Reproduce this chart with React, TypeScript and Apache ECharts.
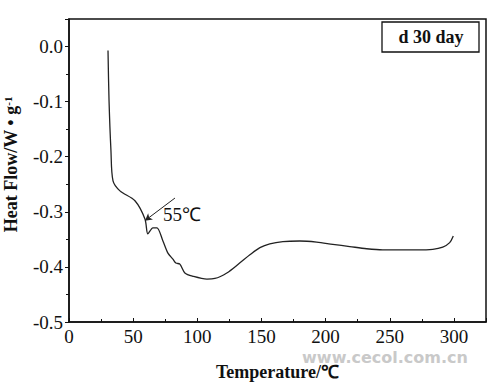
import React, { useEffect, useRef } from "react";
import * as echarts from "echarts";

const temperature = [30.4, 31.2, 32.7, 34.3, 39.7, 51.4, 59.2, 61.5, 65.4, 68.5, 73.2, 77.1, 81, 83.3, 86.4, 90.3, 96.6, 107.5, 113.7, 123, 133, 141, 148.8, 156.5, 166.7, 179.9, 193, 205.6, 218.8, 232, 244.5, 257.8, 270.8, 283.5, 291.3, 296.7, 299.5];
const heatFlow = [-0.007, -0.098, -0.189, -0.244, -0.262, -0.28, -0.313, -0.34, -0.329, -0.329, -0.353, -0.375, -0.386, -0.393, -0.395, -0.411, -0.417, -0.422, -0.421, -0.411, -0.393, -0.378, -0.365, -0.358, -0.354, -0.353, -0.355, -0.359, -0.363, -0.367, -0.369, -0.369, -0.369, -0.368, -0.364, -0.356, -0.344];
const xTickValues = [0, 50, 100, 150, 200, 250, 300];
const xTickLabels = ["0", "50", "100", "150", "200", "250", "300"];
const yTickValues = [0.0, -0.1, -0.2, -0.3, -0.4, -0.5];
const yTickLabels = ["0.0", "-0.1", "-0.2", "-0.3", "-0.4", "-0.5"];
const arrowFrom = [82.6, -0.275];
const arrowTo = [59.2, -0.316];
const peakLabel = "55℃";
const legendLabel = "d 30 day";

const serif = "Liberation Serif";
const X_MIN = 0;
const Y_MIN = -0.5;

export default function App() {
  const ref = useRef<HTMLDivElement>(null);
  useEffect(() => {
    const chart = echarts.init(ref.current!, null, { renderer: "svg" });
    const data = temperature.map((t, i) => [t, heatFlow[i]]);
    chart.setOption({
      animation: false,
      backgroundColor: "#fff",
      textStyle: { fontFamily: serif, color: "#111" },
      grid: { left: 69, right: 14, top: 19, bottom: 66, show: true, borderColor: "#111", borderWidth: 1.5, outerBoundsMode: "none", containLabel: false },
      xAxis: {
        type: "value",
        min: X_MIN,
        max: 325,
        interval: 50,
        name: "Temperature/℃",
        nameLocation: "middle",
        nameGap: 41,
        nameTextStyle: { fontFamily: serif, fontSize: 18, fontWeight: "bold", color: "#111" },
        axisLine: { onZero: false, lineStyle: { color: "#111", width: 1.5 } },
        axisTick: { inside: true, length: 4, lineStyle: { color: "#111" } },
        minorTick: { show: true, splitNumber: 2, length: 3, lineStyle: { color: "#111" } },
        axisLabel: { show: false },
        splitLine: { show: false },
      },
      yAxis: {
        type: "value",
        min: Y_MIN,
        max: 0.05,
        interval: 0.1,
        name: "Heat Flow/W • g{sup|-1}",
        nameLocation: "middle",
        nameGap: 49,
        nameTextStyle: {
          fontFamily: serif,
          fontSize: 18,
          fontWeight: "bold",
          color: "#111",
          padding: [0, 0, 0, 12],
          rich: { sup: { fontFamily: serif, fontSize: 11, fontWeight: "bold", color: "#111", verticalAlign: "top", padding: [0, 0, 5, 0] } },
        },
        axisLine: { onZero: false, lineStyle: { color: "#111", width: 1.5 } },
        axisTick: { inside: false, length: 4, lineStyle: { color: "#111" } },
        minorTick: { show: true, splitNumber: 2, length: 3, lineStyle: { color: "#111" } },
        axisLabel: { show: false },
        splitLine: { show: false },
      },
      series: [
        {
          type: "line",
          data,
          smooth: 0.3,
          showSymbol: false,
          lineStyle: { color: "#222", width: 1.3 },
          markLine: {
            silent: true,
            symbol: ["none", "arrow"],
            symbolSize: [6, 7],
            lineStyle: { color: "#222", width: 1, type: "solid" },
            label: { show: false },
            data: [[{ coord: arrowFrom }, { coord: arrowTo }]],
          },
        },
        {
          type: "custom",
          silent: true,
          clip: false,
          data: xTickValues.map((v) => [v, Y_MIN]),
          renderItem: (params: any, api: any) => {
            const p = api.coord([api.value(0), api.value(1)]);
            return {
              type: "text",
              x: p[0],
              y: p[1] + 5,
              style: { text: xTickLabels[params.dataIndex], fontFamily: serif, fontSize: 19, fill: "#111", align: "center", verticalAlign: "top" },
            };
          },
        },
        {
          type: "custom",
          silent: true,
          clip: false,
          data: yTickValues.map((v) => [X_MIN, v]),
          renderItem: (params: any, api: any) => {
            const p = api.coord([api.value(0), api.value(1)]);
            return {
              type: "text",
              x: p[0] - 6,
              y: p[1],
              style: { text: yTickLabels[params.dataIndex], fontFamily: serif, fontSize: 19, fill: "#111", align: "right", verticalAlign: "middle" },
            };
          },
        },
      ],
      graphic: [
        {
          type: "text",
          x: 163,
          y: 214,
          style: { text: peakLabel, fontFamily: serif, fontSize: 19, fill: "#111", verticalAlign: "middle" },
        },
        {
          type: "rect",
          shape: { x: 382, y: 22, width: 97, height: 30 },
          style: { fill: "#fff", stroke: "#111", lineWidth: 1.3 },
        },
        {
          type: "text",
          x: 431,
          y: 37,
          style: { text: legendLabel, fontFamily: serif, fontSize: 18, fontWeight: "bold", fill: "#111", align: "center", verticalAlign: "middle" },
        },
        {
          type: "text",
          x: 385,
          y: 357,
          style: { text: "www.cecol.com.cn", fontFamily: "DejaVu Sans", fontSize: 16, fontWeight: "bold", fill: "#c9c9c9", align: "center", verticalAlign: "middle" },
        },
      ],
    });
    return () => chart.dispose();
  }, []);
  return <div ref={ref} style={{ width: 500, height: 388, position: "absolute", left: 0, top: 0 }} />;
}
